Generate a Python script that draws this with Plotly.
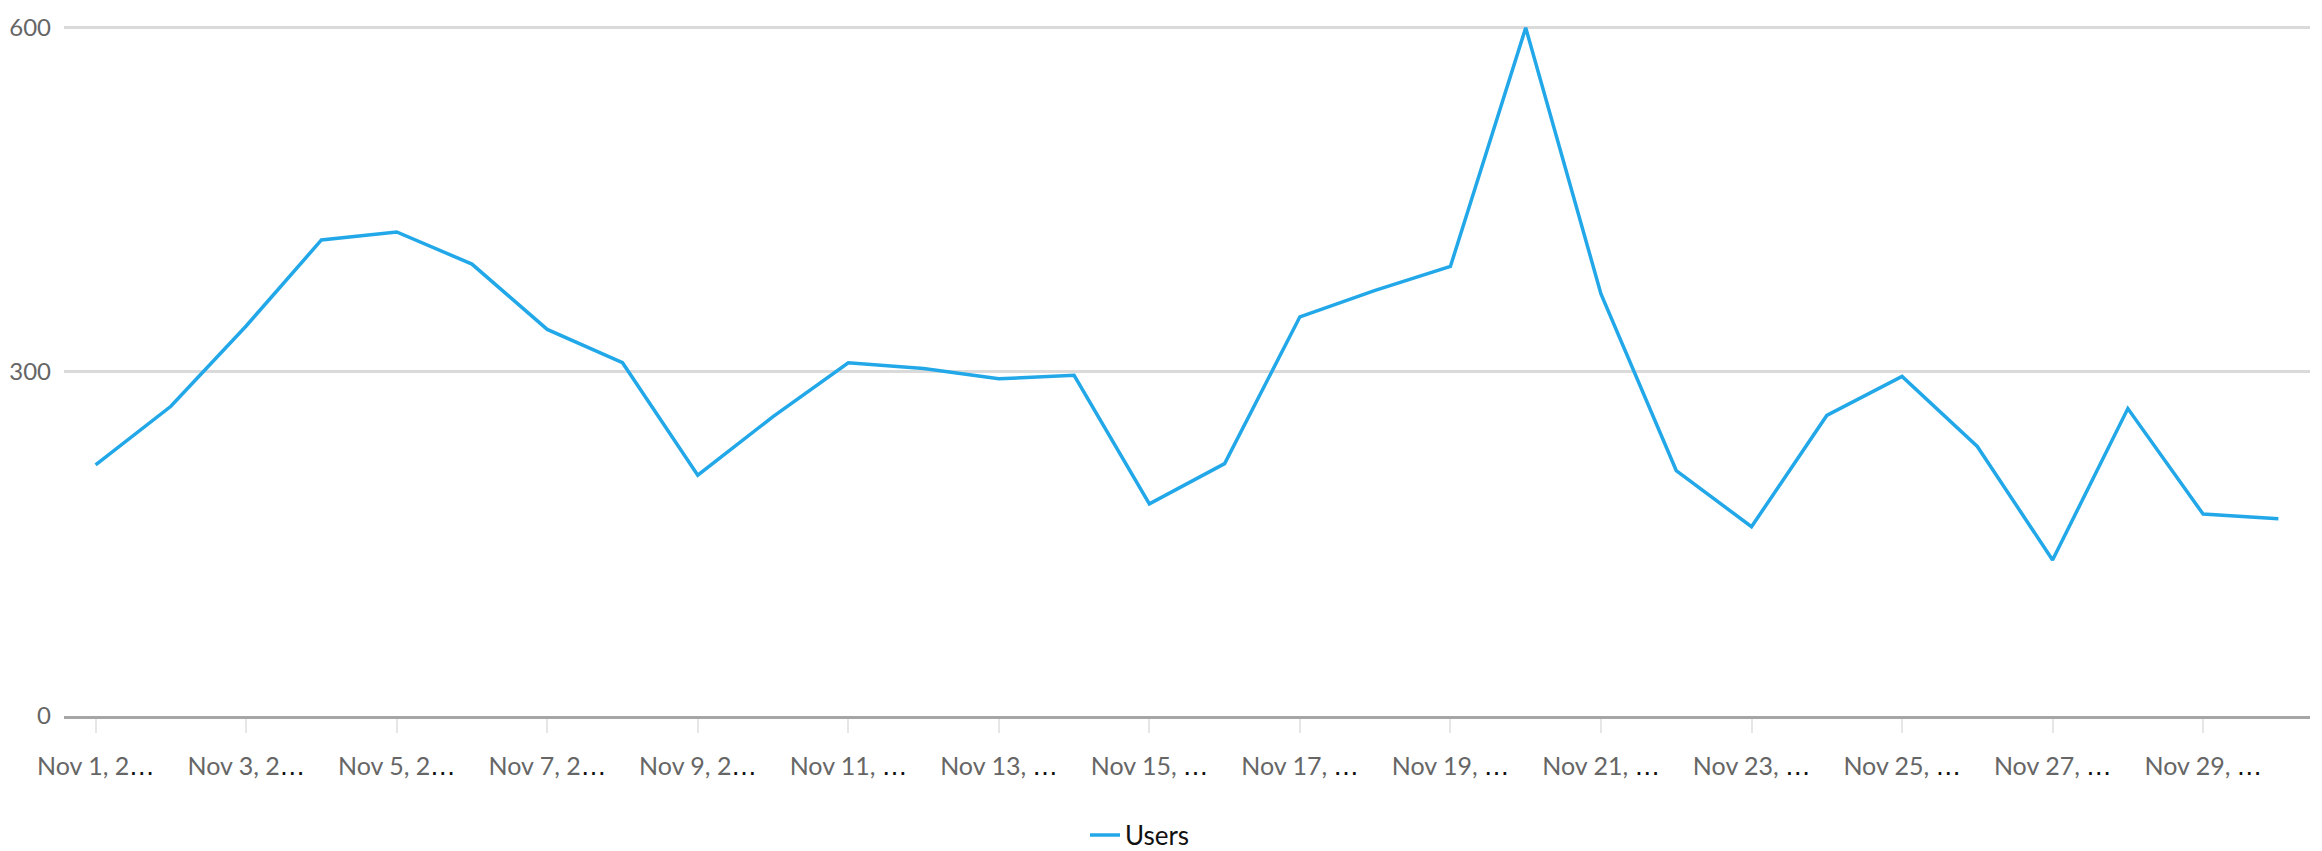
import datetime as dt
import plotly.graph_objects as go

# Daily user counts for November
dates = [dt.date(2024, 11, d) for d in range(1, 31)]
users = [219, 270, 340, 415, 422, 394, 337, 308, 210, 261,
         308, 303, 294, 297, 185, 220, 348, 371, 392, 600,
         368, 214, 165, 262, 296, 235, 136, 268, 176, 172]

categories = [d.isoformat() for d in dates]
y_ticks = [0, 300, 600]


def short_label(d):
    # "Nov 1, 2024" cut to eight characters, followed by a dark ellipsis
    full = f"{d:%b} {d.day}, {d.year}"
    return (full[:8]
            + '<span style="font-family:DejaVu Sans;color:#111111">…</span>')


tick_dates = categories[::2]
tick_text = [short_label(d) for d in dates[::2]]

LINE_BLUE = "#22a8e8"
FONT = "Lato, sans-serif"

fig = go.Figure()
fig.add_trace(go.Scatter(
    x=categories, y=users, mode="lines", name="Users",
    line=dict(color=LINE_BLUE, width=3.5),
))

fig.update_layout(
    width=2322, height=851,
    margin=dict(l=64, r=12, t=14, b=135, autoexpand=False),
    paper_bgcolor="white", plot_bgcolor="white",
    font=dict(family=FONT, size=24, color="#666666"),
    showlegend=True,
    legend=dict(
        orientation="h", xref="container", yref="container",
        x=1085 / 2322, xanchor="left",
        y=(851 - 835) / 851, yanchor="middle",
        font=dict(size=26, color="#111111"),
        bgcolor="rgba(0,0,0,0)",
    ),
    xaxis=dict(
        type="category", range=[-0.42, 29.42],
        tickmode="array", tickvals=tick_dates, ticktext=tick_text,
        showgrid=False, showline=True, linecolor="#a6a6a6", linewidth=3,
        ticks="outside", ticklen=14, tickwidth=2, tickcolor="#e6e6e6",
        ticklabelstandoff=12, tickfont=dict(size=25, color="#666666"),
        zeroline=False,
    ),
    yaxis=dict(
        range=[0, 612], tickmode="array", tickvals=y_ticks,
        showgrid=True, gridcolor="#dadada", gridwidth=3,
        zeroline=False, showline=False, ticks="",
        ticklabelstandoff=12, tickfont=dict(size=24, color="#666666"),
    ),
)

fig.write_html("out.html")
